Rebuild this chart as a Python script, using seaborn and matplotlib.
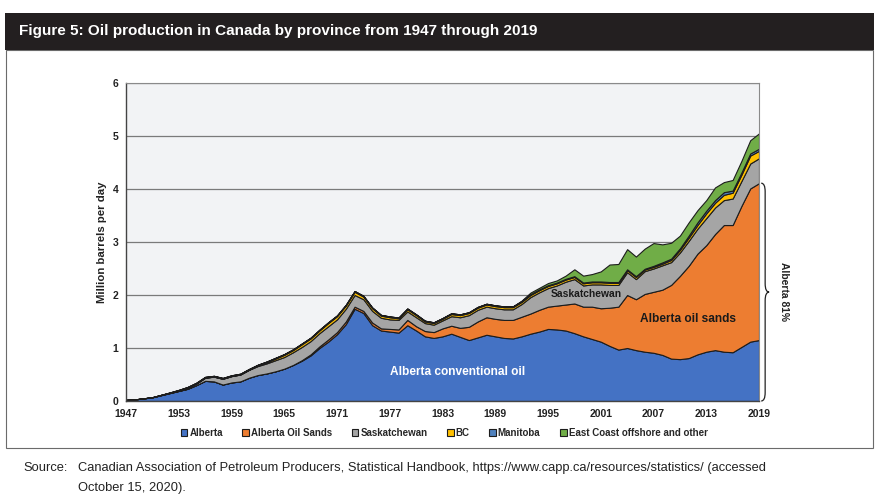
import numpy as np
import seaborn as sns
import matplotlib
matplotlib.use("Agg")
import matplotlib.pyplot as plt
from matplotlib.path import Path
from matplotlib.patches import PathPatch, Rectangle

# data: million barrels per day, 1947-2019
years = list(range(1947, 2020))

alberta = [0.02, 0.03, 0.05, 0.07, 0.11, 0.15, 0.19, 0.23, 0.30, 0.38,
           0.37, 0.31, 0.35, 0.37, 0.44, 0.49, 0.52, 0.56, 0.61, 0.68,
           0.76, 0.86, 1.00, 1.12, 1.26, 1.45, 1.74, 1.66, 1.43, 1.33,
           1.31, 1.29, 1.43, 1.33, 1.22, 1.19, 1.22, 1.27, 1.21, 1.15,
           1.20, 1.25, 1.22, 1.19, 1.18, 1.22, 1.27, 1.31, 1.36, 1.35,
           1.33, 1.28, 1.22, 1.17, 1.12, 1.04, 0.97, 1.00, 0.96, 0.93,
           0.91, 0.87, 0.80, 0.79, 0.81, 0.88, 0.93, 0.96, 0.93, 0.92,
           1.02, 1.12, 1.15]

oil_sands = [0, 0, 0, 0, 0, 0, 0, 0, 0, 0,
             0, 0, 0, 0, 0, 0, 0, 0, 0, 0,
             0.01, 0.02, 0.03, 0.04, 0.04, 0.05, 0.04, 0.04, 0.05, 0.04,
             0.05, 0.06, 0.10, 0.08, 0.10, 0.11, 0.15, 0.15, 0.17, 0.25,
             0.30, 0.33, 0.33, 0.34, 0.35, 0.37, 0.38, 0.41, 0.42, 0.45,
             0.49, 0.56, 0.56, 0.61, 0.63, 0.72, 0.81, 1.00, 0.96, 1.09,
             1.15, 1.23, 1.39, 1.57, 1.74, 1.90, 2.01, 2.19, 2.39, 2.40,
             2.66, 2.89, 2.96]

saskatchewan = [0, 0, 0, 0.002, 0.005, 0.007, 0.01, 0.02, 0.03, 0.06,
                0.09, 0.11, 0.12, 0.13, 0.15, 0.17, 0.19, 0.21, 0.22, 0.24,
                0.25, 0.25, 0.25, 0.25, 0.24, 0.24, 0.22, 0.22, 0.22, 0.20,
                0.18, 0.18, 0.16, 0.17, 0.15, 0.14, 0.15, 0.18, 0.20, 0.22,
                0.22, 0.20, 0.20, 0.20, 0.20, 0.24, 0.31, 0.33, 0.35, 0.38,
                0.43, 0.46, 0.40, 0.42, 0.45, 0.43, 0.41, 0.43, 0.38, 0.43,
                0.44, 0.46, 0.43, 0.44, 0.47, 0.47, 0.51, 0.50, 0.47, 0.50,
                0.47, 0.47, 0.47]

bc = [0, 0, 0, 0, 0, 0, 0, 0, 0, 0,
      0, 0, 0, 0, 0, 0.01, 0.02, 0.03, 0.04, 0.04,
      0.05, 0.05, 0.05, 0.06, 0.06, 0.06, 0.06, 0.05, 0.05, 0.04,
      0.04, 0.03, 0.04, 0.04, 0.03, 0.03, 0.03, 0.04, 0.04, 0.04,
      0.04, 0.04, 0.04, 0.04, 0.04, 0.04, 0.04, 0.04, 0.04, 0.04,
      0.04, 0.04, 0.04, 0.04, 0.04, 0.04, 0.04, 0.04, 0.04, 0.03,
      0.03, 0.03, 0.04, 0.05, 0.06, 0.07, 0.09, 0.09, 0.10, 0.11,
      0.12, 0.15, 0.14]

manitoba = [0, 0, 0, 0, 0.002, 0.005, 0.01, 0.015, 0.015, 0.015,
            0.015, 0.015, 0.015, 0.015, 0.015, 0.015, 0.015, 0.015, 0.015, 0.015,
            0.015, 0.015, 0.015, 0.015, 0.015, 0.015, 0.015, 0.015, 0.015, 0.015,
            0.015, 0.015, 0.015, 0.015, 0.015, 0.015, 0.015, 0.015, 0.015, 0.015,
            0.015, 0.015, 0.015, 0.015, 0.015, 0.015, 0.015, 0.015, 0.015, 0.015,
            0.015, 0.015, 0.015, 0.015, 0.015, 0.015, 0.015, 0.015, 0.015, 0.015,
            0.02, 0.025, 0.025, 0.03, 0.04, 0.05, 0.05, 0.05, 0.05, 0.04,
            0.04, 0.04, 0.04]

east_coast = [0, 0, 0, 0, 0, 0, 0, 0, 0, 0,
              0, 0, 0, 0, 0, 0, 0, 0, 0, 0,
              0, 0, 0, 0, 0, 0, 0, 0, 0, 0,
              0, 0, 0, 0, 0, 0, 0, 0, 0, 0,
              0, 0, 0, 0, 0, 0.01, 0.03, 0.03, 0.04, 0.04,
              0.06, 0.13, 0.13, 0.14, 0.19, 0.33, 0.34, 0.38, 0.37, 0.38,
              0.43, 0.34, 0.30, 0.24, 0.25, 0.23, 0.20, 0.24, 0.19, 0.20,
              0.22, 0.25, 0.29]

series_names = ["Alberta", "Alberta Oil Sands", "Saskatchewan", "BC",
                "Manitoba", "East Coast offshore and other"]
colors = ["#4472C4", "#ED7D31", "#A5A5A5", "#FFC000", "#4F81BD", "#70AD47"]

sns.set_style("white")
plt.rcParams['font.family'] = ['Liberation Sans', 'DejaVu Sans']

fig = plt.figure(figsize=(8.79, 5.03), dpi=100)
W, H = 879, 503

# title band and outer frame
fig.patches.append(Rectangle((6 / W, 1 - 448 / H), 867 / W, 398 / H,
                             transform=fig.transFigure, fill=False,
                             edgecolor="#6b6b6b", linewidth=0.8))
fig.patches.append(Rectangle((5 / W, 1 - 50 / H), 869 / W, 37 / H,
                             transform=fig.transFigure, facecolor="#231F20",
                             edgecolor="none"))
fig.text(19 / W, 1 - 31 / H,
         "Figure 5: Oil production in Canada by province from 1947 through 2019",
         color="white", fontsize=11, fontweight="bold", va="center", ha="left")

ax = fig.add_axes([126 / W, 1 - 401 / H, 633 / W, 318 / H])
ax.set_facecolor("#F2F3F5")

polys = ax.stackplot(years, alberta, oil_sands, saskatchewan, bc, manitoba,
                     east_coast, colors=colors, labels=series_names,
                     edgecolor="#1c1c1c", linewidth=0.8, zorder=2)

ax.set_xlim(1947, 2019)
ax.set_ylim(0, 6)
ax.set_yticks(range(0, 7))
ax.yaxis.grid(True, color="#7a7a7a", linewidth=0.9, zorder=0)
ax.set_axisbelow(True)

ax.set_xticks(years[::2])
ax.set_xticklabels([str(y) if (y - 1947) % 6 == 0 else "" for y in years[::2]])
ax.tick_params(axis="both", direction="out", length=3.5, width=0.8,
               color="#555555", labelsize=7.5, pad=2)
for lab in ax.get_xticklabels() + ax.get_yticklabels():
    lab.set_fontweight("bold")
    lab.set_color("#222222")

for side in ["top", "right"]:
    ax.spines[side].set_color("#8a8a8a")
    ax.spines[side].set_linewidth(0.8)
for side in ["left", "bottom"]:
    ax.spines[side].set_color("#444444")
    ax.spines[side].set_linewidth(1.0)

ax.set_ylabel("Million barrels per day", fontsize=8.2, fontweight="bold",
              color="#222222", labelpad=4)

# area labels
ax.text(1984.7, 0.55, "Alberta conventional oil", color="white",
        fontsize=8.6, fontweight="bold", ha="center", va="center")
ax.text(2010.9, 1.54, "Alberta oil sands", color="#1a1a1a",
        fontsize=8.6, fontweight="bold", ha="center", va="center")
ax.text(1999.4, 2.01, "Saskatchewan", color="#1a1a1a",
        fontsize=7.4, fontweight="bold", ha="center", va="center")

# brace for Alberta share in 2019
top = alberta[-1] + oil_sands[-1]
x0, h, c = 2019.25, 0.45, 0.16
mid = top / 2
verts = [(x0, 0), (x0 + h, 0), (x0 + h, c),
         (x0 + h, mid - c), (x0 + h, mid), (x0 + 2 * h, mid),
         (x0 + h, mid), (x0 + h, mid + c),
         (x0 + h, top - c), (x0 + h, top), (x0, top)]
codes = [Path.MOVETO, Path.CURVE3, Path.CURVE3,
         Path.LINETO, Path.CURVE3, Path.CURVE3,
         Path.CURVE3, Path.CURVE3,
         Path.LINETO, Path.CURVE3, Path.CURVE3]
ax.add_patch(PathPatch(Path(verts, codes), fill=False, edgecolor="#222222",
                       linewidth=0.9, clip_on=False))
fig.text(784 / W, 1 - 291 / H, "Alberta 81%", rotation=-90, fontsize=7.4,
         fontweight="bold", color="#222222", ha="center", va="center")

fig.legend(polys, series_names, loc="center", ncol=6,
           bbox_to_anchor=(444 / W, 1 - 433 / H), frameon=False,
           prop={"size": 7, "weight": "bold"}, handlelength=0.7,
           handleheight=0.7, handletextpad=0.2, columnspacing=2.0,
           borderaxespad=0)

fig.text(23 / W, 1 - 468 / H, "Source:", fontsize=9.3, color="#222222",
         va="center", ha="left")
fig.text(78 / W, 1 - 468 / H,
         "Canadian Association of Petroleum Producers, Statistical Handbook, "
         "https://www.capp.ca/resources/statistics/ (accessed",
         fontsize=9.3, color="#222222", va="center", ha="left")
fig.text(78 / W, 1 - 488 / H, "October 15, 2020).", fontsize=9.3,
         color="#222222", va="center", ha="left")

fig.savefig("out.png", dpi=100)
